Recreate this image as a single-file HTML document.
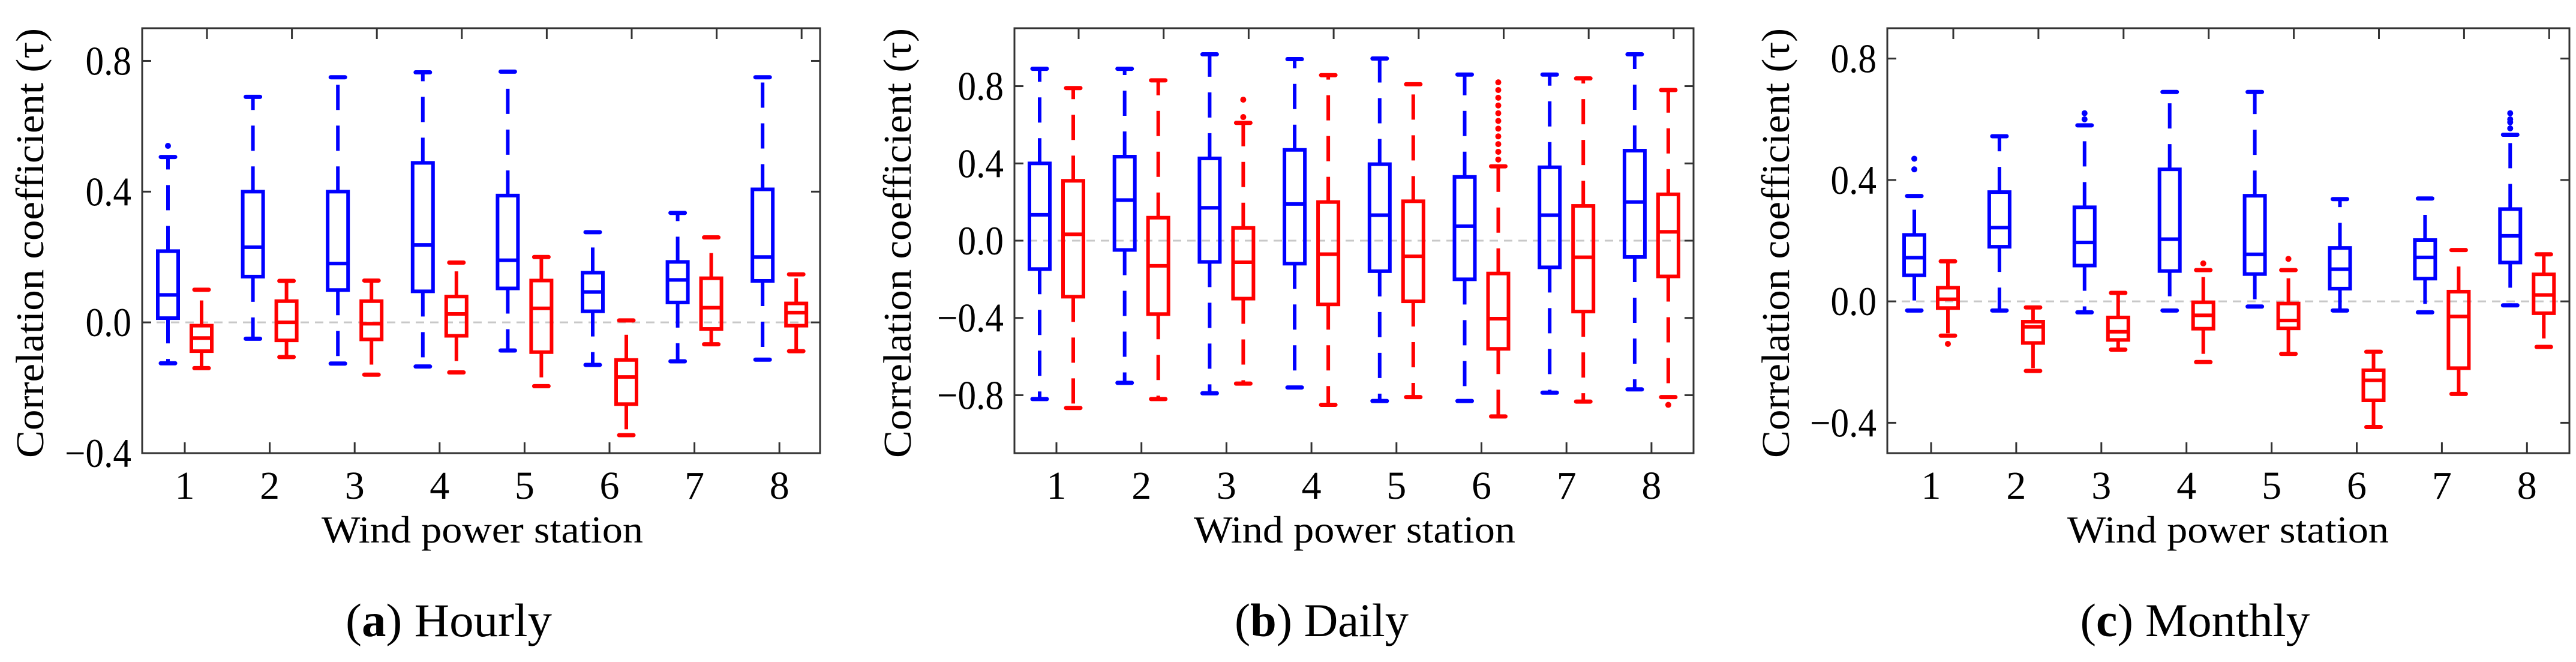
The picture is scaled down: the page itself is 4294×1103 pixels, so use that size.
<!DOCTYPE html>
<html><head><meta charset="utf-8">
<style>
html,body{margin:0;padding:0;background:#fff;}
svg{display:block;}
svg text{font-family:"Liberation Serif","Times New Roman",Times,serif !important;fill:#000;}
</style></head>
<body>
<svg id="fig" width="4294" height="1103" viewBox="0 0 4294 1103" xmlns="http://www.w3.org/2000/svg"></svg>
<script>
// ---- data: [low whisker, q1, median, q3, high whisker] per station ----
const stations = ["1","2","3","4","5","6","7","8"];

const hourlyBlue = [[-0.125,0.013,0.084,0.218,0.506],[-0.05,0.14,0.23,0.40,0.69],[-0.126,0.099,0.18,0.40,0.75],[-0.135,0.095,0.237,0.488,0.765],[-0.086,0.104,0.19,0.388,0.767],[-0.13,0.034,0.093,0.152,0.276],[-0.119,0.061,0.13,0.185,0.335],[-0.114,0.127,0.2,0.407,0.75]];
const hourlyRed  = [[-0.14,-0.088,-0.048,-0.01,0.10],[-0.106,-0.055,0.0,0.065,0.127],[-0.16,-0.052,-0.004,0.065,0.128],[-0.153,-0.041,0.026,0.079,0.183],[-0.195,-0.091,0.043,0.128,0.2],[-0.345,-0.25,-0.167,-0.115,0.006],[-0.067,-0.02,0.045,0.135,0.26],[-0.088,-0.01,0.03,0.058,0.147]];
const hourlyBlueOut = [[0.54],[],[],[],[],[],[],[]];
const hourlyRedOut  = [[],[],[],[],[],[],[],[]];

const dailyBlue = [[-0.82,-0.147,0.134,0.40,0.89],[-0.736,-0.048,0.21,0.435,0.89],[-0.79,-0.11,0.17,0.426,0.965],[-0.76,-0.119,0.19,0.47,0.94],[-0.83,-0.158,0.132,0.396,0.943],[-0.83,-0.2,0.075,0.33,0.86],[-0.787,-0.138,0.132,0.38,0.86],[-0.77,-0.084,0.2,0.466,0.965]];
const dailyRed  = [[-0.866,-0.29,0.033,0.31,0.79],[-0.82,-0.38,-0.13,0.119,0.83],[-0.74,-0.30,-0.112,0.066,0.61],[-0.85,-0.33,-0.07,0.2,0.857],[-0.81,-0.314,-0.081,0.204,0.81],[-0.91,-0.56,-0.404,-0.17,0.385],[-0.833,-0.367,-0.086,0.18,0.84],[-0.81,-0.185,0.046,0.24,0.78]];
const dailyBlueOut = [[],[],[],[],[],[],[],[]];
const dailyRedOut  = [[],[],[0.64,0.73],[],[],[0.42,0.46,0.5,0.54,0.58,0.62,0.66,0.70,0.74,0.78,0.82],[],[-0.85]];

const monthlyBlue = [[-0.03,0.086,0.144,0.219,0.347],[-0.03,0.18,0.243,0.36,0.544],[-0.036,0.118,0.194,0.31,0.58],[-0.03,0.1,0.205,0.435,0.69],[-0.017,0.09,0.155,0.348,0.69],[-0.03,0.042,0.106,0.176,0.337],[-0.036,0.075,0.145,0.202,0.339],[-0.013,0.128,0.216,0.304,0.549]];
const monthlyRed  = [[-0.113,-0.022,0.007,0.045,0.132],[-0.229,-0.137,-0.084,-0.067,-0.02],[-0.159,-0.127,-0.1,-0.053,0.028],[-0.2,-0.09,-0.046,-0.003,0.103],[-0.173,-0.089,-0.063,-0.007,0.103],[-0.414,-0.326,-0.26,-0.227,-0.166],[-0.305,-0.22,-0.05,0.032,0.169],[-0.15,-0.039,0.021,0.089,0.155]];
const monthlyBlueOut = [[0.435,0.47],[],[0.6,0.62],[],[],[],[],[0.57,0.59,0.6,0.62]];
const monthlyRedOut  = [[-0.14],[],[],[0.125],[0.14],[],[],[]];

const hourlyTicks  = ["0.8","0.4","0.0","\u22120.4"];
const hourlyTickVals = [0.8,0.4,0.0,-0.4];
const dailyTicks   = ["0.8","0.4","0.0","\u22120.4","\u22120.8"];
const dailyTickVals = [0.8,0.4,0.0,-0.4,-0.8];
const monthlyTicks = ["0.8","0.4","0.0","\u22120.4"];
const monthlyTickVals = [0.8,0.4,0.0,-0.4];

const NS = "http://www.w3.org/2000/svg";
const FONT = '"Liberation Serif", "Times New Roman", Times, serif';
const svg = document.getElementById("fig");
function mk(tag, attrs, parent){
  const e = document.createElementNS(NS, tag);
  for (const k in attrs) e.setAttribute(k, attrs[k]);
  if (tag === "text") e.setAttribute("font-family", FONT);
  (parent||svg).appendChild(e);
  return e;
}

function panel(cfg){
  const g = mk("g", {});
  
  
  const y = v => cfg.top + (cfg.ymax - v) / (cfg.ymax - cfg.ymin) * (cfg.bottom - cfg.top);
  const x = i => cfg.x0 + i * cfg.step;

  const zl = mk("line", {x1:cfg.left, x2:cfg.right, y1:y(0), y2:y(0), stroke:"#c8c8c8", "stroke-width":3, "stroke-dasharray":"14 10"}, g);
  
  

  cfg.tickVals.forEach((v, i) => {
    mk("line", {x1:cfg.left, x2:cfg.left+15, y1:y(v), y2:y(v), stroke:"#333", "stroke-width":3}, g);
    mk("line", {x1:cfg.right-15, x2:cfg.right, y1:y(v), y2:y(v), stroke:"#333", "stroke-width":3}, g);
    const t = mk("text", {x:cfg.left-18, y:y(v)+23, "font-size":68, "text-anchor":"end", transform:`translate(${cfg.left-18},0) scale(0.9,1) translate(${-(cfg.left-18)},0)`}, g);
    t.textContent = cfg.ticks[i];
    
    
  });
  stations.forEach((s, i) => {
    mk("line", {x1:x(i), x2:x(i), y1:cfg.bottom, y2:cfg.bottom-18, stroke:"#333", "stroke-width":3}, g);
    mk("line", {x1:x(i)+37, x2:x(i)+37, y1:cfg.top, y2:cfg.top+18, stroke:"#333", "stroke-width":3}, g);
    const t = mk("text", {x:x(i), y:831, "font-size":66, "text-anchor":"middle"}, g);
    t.textContent = s;
    
    
  });

  function box(stats, outs, color, off, series){
    stats.forEach((st, i) => {
      const cx = x(i) + off;
      const bg = mk("g", {}, g);
      
      
      const [lo, q1, md, q3, hi] = st;
      mk("line", {x1:cx, x2:cx, y1:y(q3), y2:y(hi), stroke:color, "stroke-width":6, "stroke-dasharray":"42 26"}, bg);
      mk("line", {x1:cx, x2:cx, y1:y(q1), y2:y(lo), stroke:color, "stroke-width":6, "stroke-dasharray":"42 26"}, bg);
      mk("line", {x1:cx-12, x2:cx+12, y1:y(hi), y2:y(hi), stroke:color, "stroke-width":7, "stroke-linecap":"round"}, bg);
      mk("line", {x1:cx-12, x2:cx+12, y1:y(lo), y2:y(lo), stroke:color, "stroke-width":7, "stroke-linecap":"round"}, bg);
      mk("rect", {x:cx-17, y:y(q3), width:34, height:y(q1)-y(q3), fill:"none", stroke:color, "stroke-width":6}, bg);
      mk("line", {x1:cx-17, x2:cx+17, y1:y(md), y2:y(md), stroke:color, "stroke-width":6}, bg);
      (outs[i]||[]).forEach(o => {
        mk("circle", {cx:cx, cy:y(o), r:5, fill:color}, bg);
      });
    });
  }
  box(cfg.blue, cfg.blueOut, "#0000ff", -28, "blue");
  box(cfg.red, cfg.redOut, "#ff0000", 28, "red");

  const fr = mk("rect", {x:cfg.left, y:cfg.top, width:cfg.right-cfg.left, height:cfg.bottom-cfg.top, fill:"none", stroke:"#333", "stroke-width":3}, g);
  
  

  const yt = mk("text", {x:0, y:0, "font-size":66, "text-anchor":"middle", transform:`translate(${cfg.ytX},${(cfg.top+cfg.bottom)/2+4}) rotate(-90)`, textLength:716, lengthAdjust:"spacingAndGlyphs"}, g);
  yt.textContent = "Correlation coefficient (\u03c4)";
  
  

  const xt = mk("text", {x:cfg.xlX, y:904, "font-size":64, "text-anchor":"middle", textLength:536, lengthAdjust:"spacingAndGlyphs"}, g);
  xt.textContent = "Wind power station";
  
  

  const cp = mk("text", {x:cfg.capX, y:1060, "font-size":78, "text-anchor":"middle", textLength:cfg.capW, lengthAdjust:"spacingAndGlyphs"}, g);
  const b1 = mk("tspan", {}, cp); b1.textContent = "(";
  const b2 = mk("tspan", {"font-weight":"bold"}, cp); b2.textContent = cfg.letter;
  const b3 = mk("tspan", {}, cp); b3.textContent = ") " + cfg.caption;
  
  
}

panel({name:"hourly-panel", left:237, right:1367, top:47, bottom:755, ymin:-0.4, ymax:0.9, x0:308, step:141.6,
  ticks:hourlyTicks, tickVals:hourlyTickVals, blue:hourlyBlue, red:hourlyRed, blueOut:hourlyBlueOut, redOut:hourlyRedOut,
  ytX:72, xlX:804, capX:748, capW:344, letter:"a", caption:"Hourly"});
panel({name:"daily-panel", left:1691, right:2823, top:47, bottom:755, ymin:-1.1, ymax:1.1, x0:1761, step:141.7,
  ticks:dailyTicks, tickVals:dailyTickVals, blue:dailyBlue, red:dailyRed, blueOut:dailyBlueOut, redOut:dailyRedOut,
  ytX:1518, xlX:2258, capX:2203, capW:290, letter:"b", caption:"Daily"});
panel({name:"monthly-panel", left:3146, right:4283, top:47, bottom:755, ymin:-0.5, ymax:0.9, x0:3219, step:141.9,
  ticks:monthlyTicks, tickVals:monthlyTickVals, blue:monthlyBlue, red:monthlyRed, blueOut:monthlyBlueOut, redOut:monthlyRedOut,
  ytX:2982, xlX:3714, capX:3659, capW:383, letter:"c", caption:"Monthly"});
</script>
</body></html>
